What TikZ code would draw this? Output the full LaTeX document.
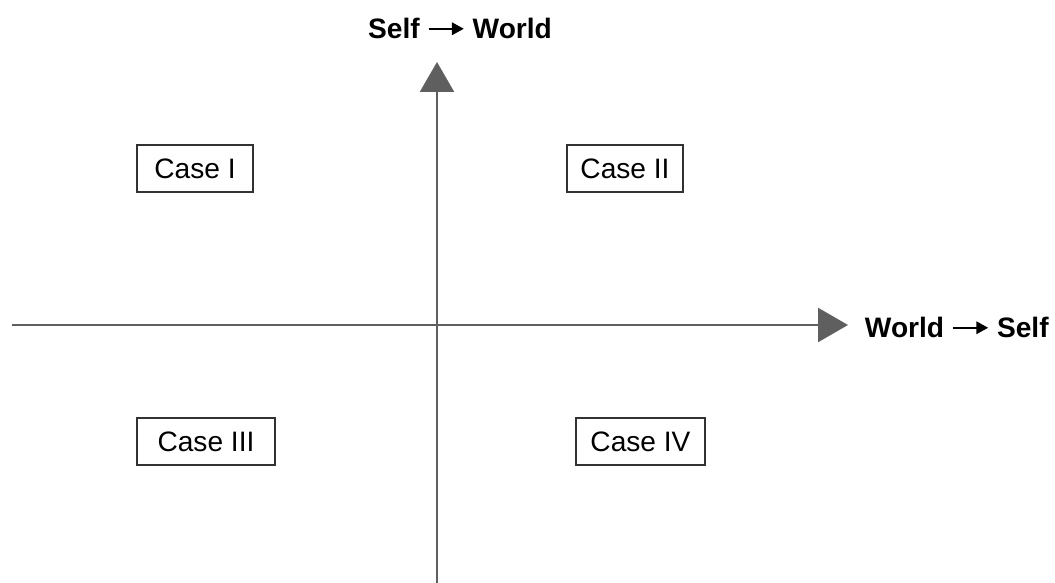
\documentclass[tikz,border=0pt]{standalone}
\usepackage{fontspec}
\setmainfont{Liberation Sans}
\usetikzlibrary{arrows.meta}
\definecolor{axisgray}{RGB}{95, 95, 95}
\definecolor{boxgray}{RGB}{50, 50, 50}

% small bold arrow inside the axis labels
\newcommand{\maparrow}{\hspace{0.28em}\tikz[baseline=-0.33em]\draw[line width=1.5pt, -{Triangle[length=0.42em, width=0.44em]}] (0,0) -- (1.25em,0);\hspace{0.28em}}

\tikzset{
    axis/.style={draw=axisgray, line width=1.8pt, -{Triangle[length=0.75cm, width=0.85cm, fill=axisgray]}},
    casebox/.style={draw=boxgray, line width=0.8pt, minimum height=1.175cm, inner sep=0pt, font=\fontsize{20}{22}\selectfont},
    axislabel/.style={font=\fontsize{20}{22}\selectfont\bfseries}
}

\begin{document}
\begin{tikzpicture}
        \useasboundingbox (0.00, 0.00) rectangle (26.375, 14.575);
        % axes
        \coordinate (left)   at ( 0.30,  6.45);
        \coordinate (right)  at (21.20,  6.45);
        \coordinate (bottom) at (10.925, 0.00);
        \coordinate (top)    at (10.925,13.025);
            \draw[axis] (left)   -- (right);
            \draw[axis] (bottom) -- (top);
        \node[axislabel]              (ylabel) at (11.50,13.875) {Self\maparrow World};
        \node[axislabel, anchor=west] (xlabel) at (21.50, 6.40)  {World\maparrow Self};
        % quadrants
            \node[casebox, minimum width=2.90cm]  (case1) at ( 4.875, 10.3625) {Case I};
            \node[casebox, minimum width=2.90cm]  (case2) at (15.625, 10.3625) {Case II};
            \node[casebox, minimum width=3.45cm]  (case3) at ( 5.150,  3.5375) {Case III};
            \node[casebox, minimum width=3.225cm] (case4) at (16.0125, 3.5375) {Case IV};
        \end{tikzpicture}
\end{document}
